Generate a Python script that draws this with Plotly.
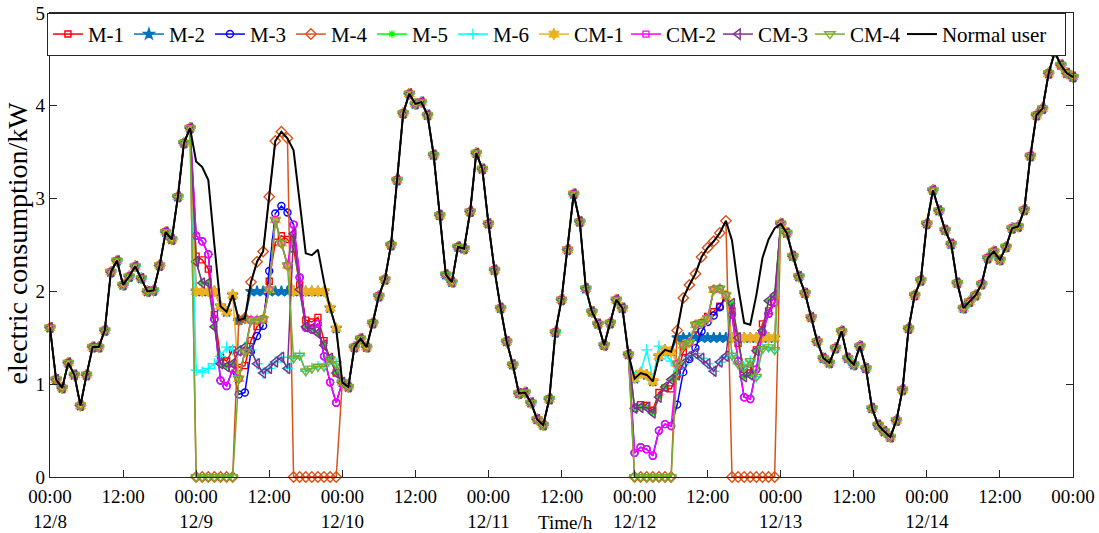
import plotly.graph_objects as go

# ---------------- data ----------------
hours = list(range(0, 169))

normal = [1.61, 1.05, 0.96, 1.23, 1.10, 0.77, 1.10, 1.40, 1.40, 1.58, 2.21, 2.33,
          2.07, 2.16, 2.27, 2.14, 2.00, 2.01, 2.28, 2.64, 2.56, 3.02, 3.60, 3.76,
          3.40, 3.34, 3.20, 2.50, 1.84, 1.78, 1.96, 1.69, 1.71, 2.10, 2.32, 2.43,
          3.02, 3.62, 3.72, 3.65, 3.52, 2.95, 2.41, 2.39, 2.45, 2.10, 1.82, 1.60,
          1.02, 0.97, 1.40, 1.49, 1.40, 1.66, 1.95, 2.13, 2.50, 3.20, 3.92, 4.13,
          4.02, 4.04, 3.90, 3.47, 2.82, 2.18, 2.10, 2.48, 2.46, 2.86, 3.49, 3.32,
          2.73, 2.23, 1.82, 1.46, 1.21, 0.90, 0.91, 0.80, 0.62, 0.56, 0.84, 1.56,
          1.91, 2.45, 3.05, 2.75, 2.03, 1.78, 1.65, 1.42, 1.66, 1.91, 1.82, 1.32,
          1.06, 1.12, 1.10, 1.03, 1.30, 1.37, 1.35, 1.58, 1.93, 2.07, 2.19, 2.37,
          2.47, 2.54, 2.63, 2.76, 2.55, 2.05, 1.66, 1.64, 1.96, 2.36, 2.56, 2.68,
          2.73, 2.63, 2.38, 2.16, 1.98, 1.72, 1.46, 1.28, 1.23, 1.39, 1.57, 1.28,
          1.21, 1.41, 1.17, 0.74, 0.56, 0.49, 0.43, 0.61, 0.94, 1.60, 1.96, 2.12,
          2.73, 3.09, 2.87, 2.66, 2.51, 2.09, 1.82, 1.89, 1.96, 2.08, 2.36, 2.43,
          2.34, 2.48, 2.68, 2.70, 2.88, 3.46, 3.90, 3.97, 4.35, 4.58, 4.44, 4.35,
          4.31]

# attack windows (start hour of each 24-h window)
window1_start = 24
window2_start = 96

# values inside attack window 1 (12/9)
m1_w1 = [2.38, 2.34, 2.24, 1.75, 1.29, 1.25, 1.37, 1.18, 1.20, 1.47, 1.62, 1.70,
         2.11, 2.53, 2.60, 2.56, 2.46, 2.07, 1.69, 1.67, 1.72, 1.47, 1.27, 1.12]
m2_w1 = [2.00, 2.00, 2.00, 2.00, 1.84, 1.78, 1.96, 1.69, 1.71, 2.00, 2.00, 2.00,
         2.00, 2.00, 2.00, 2.00, 2.00, 2.00, 2.00, 2.00, 2.00, 2.00, 1.82, 1.60]
m3_w1 = [2.60, 2.54, 2.40, 1.70, 1.04, 0.98, 1.16, 0.89, 0.91, 1.35, 1.52, 1.63,
         2.22, 2.84, 2.92, 2.85, 2.72, 2.15, 1.61, 1.59, 1.65, 1.30, 1.02, 0.80]
m4_w1 = [0, 0, 0, 0, 0, 0, 0, 1.69, 1.71, 2.10, 2.32, 2.43,
         3.02, 3.62, 3.72, 3.65, 0, 0, 0, 0, 0, 0, 0, 0]
m5_w1 = [2.32, 2.09, 2.09, 1.62, 1.22, 1.19, 1.22, 1.06, 1.35, 1.69, 1.69, 1.70,
         2.02, 2.77, 2.52, 2.28, 2.62, 2.02, 1.62, 1.60, 1.55, 1.42, 1.28, 1.12]
m6_w1 = [1.15, 1.13, 1.17, 1.22, 1.30, 1.40, 1.37, 1.36, 1.40, 1.37, 1.22, 1.12,
         1.17, 1.24, 1.29, 1.17, 1.28, 1.31, 1.14, 1.17, 1.19, 1.19, 1.27, 1.22]
cm1_w1 = [2.00, 2.00, 2.00, 2.00, 1.84, 1.78, 1.96, 1.06, 1.35, 1.69, 1.69, 1.70,
          2.02, 2.77, 2.52, 2.28, 2.00, 2.00, 2.00, 2.00, 2.00, 2.00, 1.82, 1.60]
cm2_w1 = [2.60, 2.54, 2.40, 1.70, 1.04, 0.98, 1.16, 1.06, 1.35, 1.69, 1.69, 1.70,
          2.02, 2.77, 2.52, 2.28, 2.72, 2.15, 1.61, 1.59, 1.65, 1.30, 1.02, 0.80]
cm3_w1 = [2.32, 2.09, 2.09, 1.62, 1.22, 1.19, 1.22, 1.36, 1.40, 1.37, 1.22, 1.12,
          1.17, 1.24, 1.29, 1.17, 2.62, 2.02, 1.62, 1.60, 1.55, 1.42, 1.28, 1.12]
cm4_w1 = [0, 0, 0, 0, 0, 0, 0, 1.06, 1.35, 1.69, 1.69, 1.70,
          2.02, 2.77, 2.52, 2.28, 1.28, 1.31, 1.14, 1.17, 1.19, 1.19, 1.27, 1.22]

# values inside attack window 2 (12/12)
m1_w2 = [0.74, 0.78, 0.77, 0.72, 0.91, 0.96, 0.95, 1.11, 1.35, 1.45, 1.53, 1.66,
         1.73, 1.78, 1.84, 1.93, 1.79, 1.44, 1.16, 1.15, 1.37, 1.65, 1.79, 1.88]
m2_w2 = [1.06, 1.12, 1.10, 1.03, 1.30, 1.37, 1.35, 1.50, 1.50, 1.50, 1.50, 1.50,
         1.50, 1.50, 1.50, 1.50, 1.50, 1.50, 1.50, 1.50, 1.50, 1.50, 1.50, 1.50]
m3_w2 = [0.26, 0.32, 0.30, 0.23, 0.50, 0.57, 0.55, 0.78, 1.13, 1.27, 1.39, 1.57,
         1.67, 1.74, 1.83, 1.96, 1.75, 1.25, 0.86, 0.84, 1.16, 1.56, 1.76, 1.88]
m4_w2 = [0, 0, 0, 0, 0, 0, 0, 1.58, 1.93, 2.07, 2.19, 2.37,
         2.47, 2.54, 2.63, 2.76, 0, 0, 0, 0, 0, 0, 0, 0]
m5_w2 = [0.74, 0.75, 0.75, 0.69, 0.86, 0.97, 1.05, 1.22, 1.42, 1.45, 1.64, 1.66,
         1.71, 2.02, 2.03, 1.96, 1.87, 1.50, 1.08, 1.10, 1.36, 1.58, 1.90, 1.96]
m6_w2 = [1.07, 1.13, 1.37, 1.05, 1.41, 1.32, 1.25, 1.10, 1.22, 1.30, 1.33, 1.28,
         1.22, 1.14, 1.24, 1.30, 1.31, 1.22, 1.18, 1.25, 1.08, 1.38, 1.40, 1.37]
cm1_w2 = [1.06, 1.12, 1.10, 1.03, 1.30, 1.37, 1.35, 1.22, 1.42, 1.45, 1.64, 1.66,
          1.71, 2.02, 2.03, 1.96, 1.50, 1.50, 1.50, 1.50, 1.50, 1.50, 1.50, 1.50]
cm2_w2 = [0.26, 0.32, 0.30, 0.23, 0.50, 0.57, 0.55, 1.22, 1.42, 1.45, 1.64, 1.66,
          1.71, 2.02, 2.03, 1.96, 1.75, 1.25, 0.86, 0.84, 1.16, 1.56, 1.76, 1.88]
cm3_w2 = [0.74, 0.75, 0.75, 0.69, 0.86, 0.97, 1.05, 1.10, 1.22, 1.30, 1.33, 1.28,
          1.22, 1.14, 1.24, 1.30, 1.87, 1.50, 1.08, 1.10, 1.36, 1.58, 1.90, 1.96]
cm4_w2 = [0, 0, 0, 0, 0, 0, 0, 1.22, 1.42, 1.45, 1.64, 1.66,
          1.71, 2.02, 2.03, 1.96, 1.31, 1.22, 1.18, 1.25, 1.08, 1.38, 1.40, 1.37]

tick_vals = list(range(0, 169, 12))
tick_text = ["00:00<br>12/8", "12:00", "00:00<br>12/9", "12:00", "00:00<br>12/10",
             "12:00", "00:00<br>12/11", "12:00", "00:00<br>12/12", "12:00",
             "00:00<br>12/13", "12:00", "00:00<br>12/14", "12:00", "00:00"]

series_names = ["M-1", "M-2", "M-3", "M-4", "M-5", "M-6", "CM-1", "CM-2", "CM-3", "CM-4"]
window1_vals = [m1_w1, m2_w1, m3_w1, m4_w1, m5_w1, m6_w1, cm1_w1, cm2_w1, cm3_w1, cm4_w1]
window2_vals = [m1_w2, m2_w2, m3_w2, m4_w2, m5_w2, m6_w2, cm1_w2, cm2_w2, cm3_w2, cm4_w2]

# ---------------- styles ----------------
styles = {
    "M-1": dict(color="#FF0000", symbol="square-open", size=6),
    "M-2": dict(color="#0072BD", symbol="star", size=8),
    "M-3": dict(color="#0000FF", symbol="circle-open", size=7),
    "M-4": dict(color="#D95319", symbol="diamond-open", size=8),
    "M-5": dict(color="#00FF00", symbol="asterisk-open", size=6),
    "M-6": dict(color="#00FFFF", symbol="cross-thin-open", size=8),
    "CM-1": dict(color="#EDB120", symbol="hexagram", size=8),
    "CM-2": dict(color="#FF00FF", symbol="circle-open", size=7),
    "CM-3": dict(color="#7E2F8E", symbol="triangle-left-open", size=9),
    "CM-4": dict(color="#77AC30", symbol="triangle-down-open", size=9),
}
# legend entry widths (px of text slot) so the one-row legend spacing matches
legend_slot = {"M": 36, "CM": 47, "Normal user": 118}

FONT = "Liberation Serif, Times New Roman, serif"

fig = go.Figure()
for name, w1, w2 in zip(series_names, window1_vals, window2_vals):
    vals = list(normal)
    vals[window1_start:window1_start + len(w1)] = w1
    vals[window2_start:window2_start + len(w2)] = w2
    st = styles[name]
    slot = legend_slot["CM"] if name.startswith("CM") else legend_slot["M"]
    fig.add_trace(go.Scatter(
        x=hours, y=vals, mode="lines+markers", name=name,
        showlegend=(name != "CM-2"), legendwidth=slot,
        cliponaxis=False,
        line=dict(color=st["color"], width=1.5),
        marker=dict(symbol=st["symbol"], size=st["size"], color=st["color"],
                    line=dict(color=st["color"], width=1.4)),
    ))
    if name == "CM-2":
        # legend entry for CM-2 uses a square marker as in the reference
        fig.add_trace(go.Scatter(
            x=[None], y=[None], mode="lines+markers", name=name, legendwidth=slot,
            line=dict(color=st["color"], width=1.5),
            marker=dict(symbol="square-open", size=6, color=st["color"],
                        line=dict(color=st["color"], width=1.2)),
        ))

fig.add_trace(go.Scatter(
    x=hours, y=normal, mode="lines", name="Normal user", cliponaxis=False,
    legendwidth=legend_slot["Normal user"],
    line=dict(color="black", width=2),
))

axis_common = dict(
    showline=True, mirror="ticks", linecolor="#262626", linewidth=1.2,
    ticks="inside", ticklen=7, tickwidth=1.2, tickcolor="#262626",
    showgrid=False, zeroline=False, automargin=False,
    tickfont=dict(family=FONT, size=19, color="black"),
)

fig.update_layout(
    width=1099, height=533,
    margin=dict(l=50, r=26, t=13, b=56, autoexpand=False),
    paper_bgcolor="white", plot_bgcolor="white",
    xaxis=dict(range=[0, 168], tickmode="array", tickvals=tick_vals,
               ticktext=tick_text, ticklabelstandoff=2, **axis_common),
    yaxis=dict(range=[0, 5], tickmode="array", tickvals=[0, 1, 2, 3, 4, 5],
               **axis_common),
    legend=dict(orientation="h", x=-0.003, y=1.0002,
                xanchor="left", yanchor="top",
                bgcolor="white", bordercolor="#262626", borderwidth=1,
                font=dict(family=FONT, size=21, color="black"),
                itemwidth=30, tracegroupgap=0),
    showlegend=True,
    annotations=[
        dict(text="Time/h", xref="paper", yref="paper", x=0.504, y=-0.099,
             xanchor="center", yanchor="middle", showarrow=False,
             font=dict(family=FONT, size=19, color="black")),
        dict(text="electric consumption/kW", xref="paper", yref="paper",
             x=-0.0315, y=0.505, xanchor="center", yanchor="middle",
             textangle=-90, showarrow=False,
             font=dict(family=FONT, size=28, color="black")),
    ],
)

fig.write_html("out.html")
